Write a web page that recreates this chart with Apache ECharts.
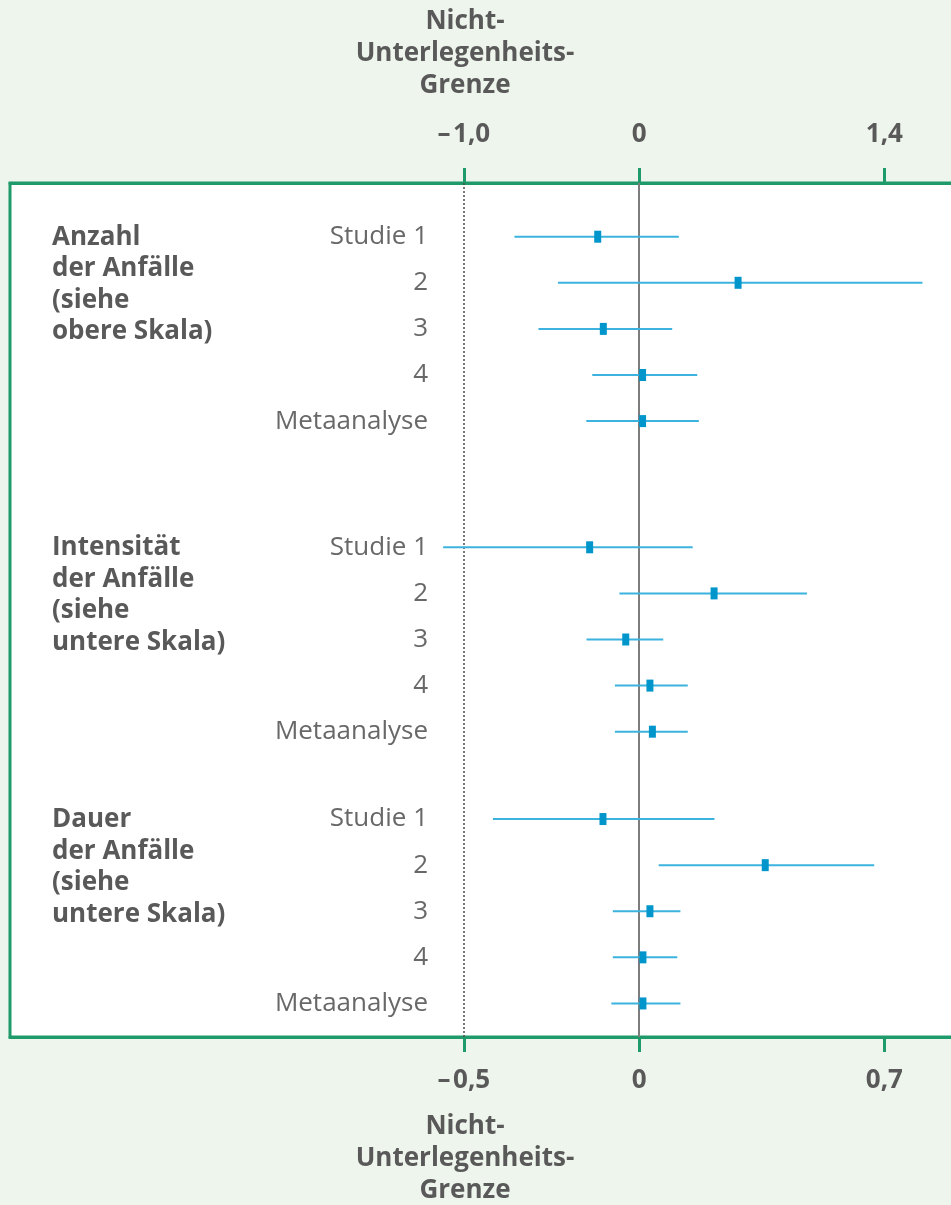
<!DOCTYPE html>
<html lang="de">
<head>
<meta charset="utf-8">
<title>Nicht-Unterlegenheit – Forest-Plot</title>
<script src="https://cdn.jsdelivr.net/npm/echarts@6/dist/echarts.min.js"></script>
<style>
  html, body { margin: 0; padding: 0; background: #eef5ec; }
  #chart { width: 951px; height: 1205px; }
</style>
</head>
<body>
<div id="chart"></div>
<script>
// Zeilen je Endpunkt
const rowLabels = ['Studie 1', '2', '3', '4', 'Metaanalyse'];
const groupTitles = [
  'Anzahl\nder Anfälle\n(siehe\nobere Skala)',
  'Intensität\nder Anfälle\n(siehe\nuntere Skala)',
  'Dauer\nder Anfälle\n(siehe\nuntere Skala)'
];

// Anzahl der Anfälle (obere Skala): Schätzer und Konfidenzintervall
const anzahlEst  = [-0.236, 0.565, -0.204, 0.020, 0.020];
const anzahlLow  = [-0.711, -0.463, -0.574, -0.267, -0.301];
const anzahlHigh = [0.227, 1.617, 0.189, 0.332, 0.341];

// Intensität der Anfälle (untere Skala)
const intensEst  = [-0.141, 0.214, -0.038, 0.031, 0.038];
const intensLow  = [-0.559, -0.056, -0.150, -0.069, -0.069];
const intensHigh = [0.153, 0.479, 0.069, 0.139, 0.139];

// Dauer der Anfälle (untere Skala)
const dauerEst  = [-0.103, 0.360, 0.031, 0.011, 0.011];
const dauerLow  = [-0.417, 0.056, -0.075, -0.075, -0.079];
const dauerHigh = [0.215, 0.671, 0.118, 0.109, 0.118];

// Skalen
const upperTicks = [-1.0, 0, 1.4];
const upperTickLabels = ['–\u200A1,0', '0', '1,4'];
const lowerTicks = [-0.5, 0, 0.7];
const lowerTickLabels = ['–\u200A0,5', '0', '0,7'];
const upperMargin = -1.0;   // Nicht-Unterlegenheits-Grenze, obere Skala
const marginTitle = 'Nicht-\nUnterlegenheits-\nGrenze';

// Darstellung
const FONT = "'Open Sans', 'Noto Sans', sans-serif";
const GREEN = '#1f9a6b';
const TEXT_DARK = '#595959';
const TEXT_ROW = '#686868';
const CI_COLOR = '#3bb3de';
const EST_COLOR = '#0096cc';

const UPPER_RANGE = [-3.59, 1.9];
const LOWER_RANGE = [-1.795, 0.95];
const PLOT_LEFT = 10;
const PLOT_WIDTH = 962;
const ROW_BAND = 46.1;
const groupTops = [213.65, 524.25, 796];

function tickFormatter(ticks, labels) {
  return function (v) {
    const i = ticks.findIndex(t => Math.abs(t - v) < 1e-9);
    return i >= 0 ? labels[i] : '';
  };
}

function frameAxis(position, range, ticks, labels, margin) {
  return {
    type: 'value', gridIndex: 0, position: position,
    min: range[0], max: range[1],
    splitLine: { show: false },
    axisLine: { show: true, onZero: false, lineStyle: { color: GREEN, width: 3 } },
    axisTick: { show: true, inside: false, length: 15, customValues: ticks,
                lineStyle: { color: GREEN, width: 3 } },
    axisLabel: { show: true, customValues: ticks, margin: margin,
                 formatter: tickFormatter(ticks, labels),
                 fontFamily: FONT, fontSize: 26, fontWeight: 'bold', color: TEXT_DARK }
  };
}

function hiddenAxis(gridIndex, range) {
  return { type: 'value', gridIndex: gridIndex, min: range[0], max: range[1], show: false,
           splitLine: { show: false } };
}

function rowAxis(gridIndex) {
  return {
    type: 'category', gridIndex: gridIndex, inverse: true, data: rowLabels,
    boundaryGap: true,
    axisLine: { show: false }, axisTick: { show: false }, splitLine: { show: false },
    axisLabel: { margin: -418, fontFamily: FONT, fontSize: 26, color: TEXT_ROW }
  };
}

function renderInterval(params, api) {
  const yi = api.value(0);
  const pLow = api.coord([api.value(1), yi]);
  const pEst = api.coord([api.value(2), yi]);
  const pHigh = api.coord([api.value(3), yi]);
  return {
    type: 'group',
    children: [
      { type: 'line',
        shape: { x1: pLow[0], y1: pLow[1], x2: pHigh[0], y2: pHigh[1] },
        style: { stroke: CI_COLOR, lineWidth: 2 } },
      { type: 'rect',
        shape: { x: pEst[0] - 3.5, y: pEst[1] - 6, width: 7, height: 12 },
        style: { fill: EST_COLOR } }
    ]
  };
}

function intervalSeries(idx, est, low, high) {
  return {
    type: 'custom', xAxisIndex: idx + 2, yAxisIndex: idx + 1, z: 5,
    renderItem: renderInterval, silent: true,
    encode: { x: [1, 2, 3], y: 0 },
    data: rowLabels.map((r, i) => [i, low[i], est[i], high[i]])
  };
}

const chart = echarts.init(document.getElementById('chart'), null, { renderer: 'canvas' });

const option = {
  animation: false,
  backgroundColor: '#eef5ec',
  textStyle: { fontFamily: FONT },
  grid: [
    { left: PLOT_LEFT, top: 183, width: PLOT_WIDTH, height: 854, show: true,
      backgroundColor: '#ffffff', borderColor: GREEN, borderWidth: 3,
      containLabel: false, outerBoundsMode: 'none' },
    ...groupTops.map(t => ({ left: PLOT_LEFT, top: t, width: PLOT_WIDTH, height: ROW_BAND * 5,
                             containLabel: false, outerBoundsMode: 'none' }))
  ],
  xAxis: [
    frameAxis('top', UPPER_RANGE, upperTicks, upperTickLabels, 35),
    frameAxis('bottom', LOWER_RANGE, lowerTicks, lowerTickLabels, 31),
    hiddenAxis(1, UPPER_RANGE),
    hiddenAxis(2, LOWER_RANGE),
    hiddenAxis(3, LOWER_RANGE)
  ],
  yAxis: [
    { type: 'value', gridIndex: 0, min: 0, max: 1, show: false, splitLine: { show: false } },
    rowAxis(1), rowAxis(2), rowAxis(3)
  ],
  series: [
    { type: 'scatter', xAxisIndex: 0, yAxisIndex: 0, data: [], silent: true, z: 2,
      markLine: {
        silent: true, symbol: ['none', 'none'], label: { show: false }, animation: false,
        data: [
          { xAxis: 0, lineStyle: { color: '#7d7d7d', width: 2, type: 'solid' } },
          { xAxis: upperMargin, lineStyle: { color: '#4d4d4d', width: 1.5, type: [2, 2] } }
        ]
      } },
    intervalSeries(0, anzahlEst, anzahlLow, anzahlHigh),
    intervalSeries(1, intensEst, intensLow, intensHigh),
    intervalSeries(2, dauerEst, dauerLow, dauerHigh)
  ],
  graphic: [
    ...groupTitles.map((t, i) => ({
      type: 'text', x: 52, y: groupTops[i] + ROW_BAND / 2 - 15, silent: true,
      style: { text: t, fill: TEXT_DARK, fontFamily: FONT, fontSize: 26, fontWeight: 'bold',
               lineHeight: 31.5, textAlign: 'left', textVerticalAlign: 'top' }
    })),
    { type: 'text', x: 465, y: 6, silent: true,
      style: { text: marginTitle, fill: TEXT_DARK, fontFamily: FONT, fontSize: 26, fontWeight: 'bold',
               lineHeight: 32, textAlign: 'center', textVerticalAlign: 'top' } },
    { type: 'text', x: 465, y: 1111, silent: true,
      style: { text: marginTitle, fill: TEXT_DARK, fontFamily: FONT, fontSize: 26, fontWeight: 'bold',
               lineHeight: 32, textAlign: 'center', textVerticalAlign: 'top' } }
  ]
};

chart.setOption(option);
</script>
</body>
</html>
